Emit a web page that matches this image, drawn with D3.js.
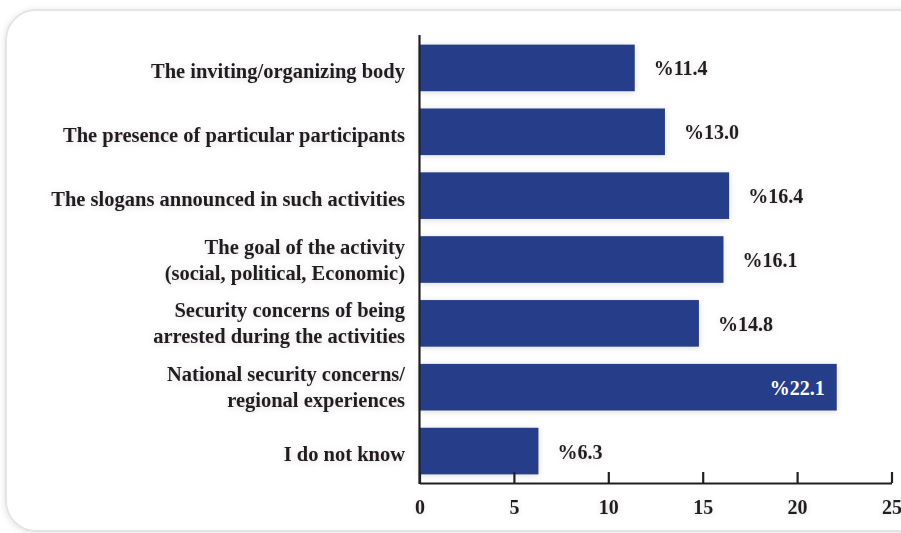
<!DOCTYPE html>
<html>
<head>
<meta charset="utf-8">
<script src="https://cdn.jsdelivr.net/npm/d3@7"></script>
<style>
  html, body { margin: 0; padding: 0; background: #ffffff; }
  svg { display: block; }
  text { font-family: "Liberation Serif", Tinos, "Times New Roman", Times, "DejaVu Serif", serif; font-weight: bold; fill: #231f20; }
</style>
</head>
<body>
<svg id="chart" width="901" height="533"></svg>
<script>
// Reasons that keep people from taking part in activities (share, %)
const categories = [
  ["The inviting/organizing body"],
  ["The presence of particular participants"],
  ["The slogans announced in such activities"],
  ["The goal of the activity", "(social, political, Economic)"],
  ["Security concerns of being", "arrested during the activities"],
  ["National security concerns/", "regional experiences"],
  ["I do not know"]
];
const values = [11.4, 13.0, 16.4, 16.1, 14.8, 22.1, 6.3];
const tickValues = [0, 5, 10, 15, 20, 25];

const svg = d3.select("#chart");
const defs = svg.append("defs");

// soft shadows used by the card, the bars and the text
const cardShadow = defs.append("filter").attr("id", "cardShadow")
  .attr("x", "-5%").attr("y", "-5%").attr("width", "110%").attr("height", "110%");
cardShadow.append("feDropShadow").attr("dx", 0).attr("dy", 1).attr("stdDeviation", 3)
  .attr("flood-color", "#000").attr("flood-opacity", 0.12);

const softShadow = defs.append("filter").attr("id", "softShadow")
  .attr("x", "-20%").attr("y", "-40%").attr("width", "140%").attr("height", "180%");
softShadow.append("feDropShadow").attr("dx", 0).attr("dy", 1).attr("stdDeviation", 3)
  .attr("flood-color", "#000").attr("flood-opacity", 0.14);

// rounded card behind the chart
svg.append("rect")
  .attr("x", 6).attr("y", 10).attr("width", 930).attr("height", 521)
  .attr("rx", 30).attr("ry", 30)
  .attr("fill", "#ffffff").attr("stroke", "#e4e4e4").attr("stroke-width", 2)
  .attr("filter", "url(#cardShadow)");

const x = d3.scaleLinear().domain([0, 25]).range([419.5, 891.5]);
const y = d3.scaleBand()
  .domain(d3.range(categories.length))
  .range([36, 483])
  .paddingInner(0.27)
  .paddingOuter(0.135);

const barColor = "#263c89";
const serif = "'Liberation Serif', Tinos, 'Times New Roman', Times, 'DejaVu Serif', serif";

// bars
svg.append("g").selectAll("rect")
  .data(values)
  .join("rect")
  .attr("x", x(0))
  .attr("y", (d, i) => y(i))
  .attr("width", d => x(d) - x(0))
  .attr("height", y.bandwidth())
  .attr("fill", barColor)
  .attr("filter", "url(#softShadow)");

// value labels: outside the bar, except the longest one which sits inside
const maxVal = d3.max(values);
svg.append("g").selectAll("text")
  .data(values)
  .join("text")
  .attr("x", d => d === maxVal ? x(d) - 12 : x(d) + 19)
  .attr("y", (d, i) => y(i) + y.bandwidth() / 2 + 7.5)
  .attr("text-anchor", d => d === maxVal ? "end" : "start")
  .attr("font-family", serif)
  .style("font-size", "20px")
  .style("fill", d => d === maxVal ? "#ffffff" : "#231f20")
  .attr("filter", d => d === maxVal ? null : "url(#softShadow)")
  .text(d => "%" + d.toFixed(1));

// category labels (one or two lines)
const catG = svg.append("g");
categories.forEach((lines, i) => {
  const cy = y(i) + y.bandwidth() / 2;
  const t = catG.append("text")
    .attr("text-anchor", "end")
    .attr("font-family", serif)
    .style("font-size", "20.5px")
    .attr("filter", "url(#softShadow)");
  if (lines.length === 1) {
    t.append("tspan").attr("x", 405).attr("y", cy + 10).text(lines[0]);
  } else {
    t.append("tspan").attr("x", 405).attr("y", cy - 6).text(lines[0]);
    t.append("tspan").attr("x", 405).attr("y", cy + 20).text(lines[1]);
  }
});

// x axis along the bottom with ticks pointing up
const xAxis = svg.append("g")
  .attr("transform", "translate(0,483)")
  .call(d3.axisBottom(x).tickValues(tickValues).tickSize(-11).tickSizeOuter(0).tickPadding(17));
xAxis.attr("font-family", null).attr("font-size", null);
xAxis.select(".domain").attr("stroke", "#231f20").attr("stroke-width", 2.2);
xAxis.selectAll(".tick line").attr("stroke", "#231f20").attr("stroke-width", 2.2);
xAxis.selectAll(".tick text")
  .attr("font-family", serif)
  .style("font-size", "20px")
  .style("font-weight", "bold")
  .attr("fill", "#231f20")
  .attr("filter", "url(#softShadow)");

// vertical baseline at zero
svg.append("line")
  .attr("x1", x(0)).attr("x2", x(0))
  .attr("y1", 35).attr("y2", 484)
  .attr("stroke", "#231f20").attr("stroke-width", 2.2);
</script>
</body>
</html>
